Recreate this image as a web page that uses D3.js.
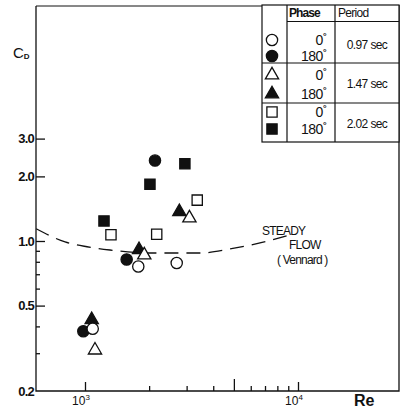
<!DOCTYPE html>
<html>
<head>
<meta charset="utf-8">
<script src="https://cdn.jsdelivr.net/npm/d3@7"></script>
<style>
  body { margin: 0; background: #fff; }
  svg { display: block; }
  text { font-family: "Liberation Sans", Arial, sans-serif; fill: #111; }
</style>
</head>
<body>
<svg width="410" height="409"></svg>
<script>
// Re, Cd pairs
const openCircle = [[1779, 0.76], [2695, 0.79], [1087, 0.39]];      // 0.97 sec, 0 deg
const fullCircle = [[2131, 2.37], [1569, 0.82], [982, 0.38]];       // 0.97 sec, 180 deg
const openTriangle = [[3092, 1.28], [1898, 0.86], [1114, 0.31]];    // 1.47 sec, 0 deg
const fullTriangle = [[2773, 1.37], [1793, 0.91], [1075, 0.43]];    // 1.47 sec, 180 deg
const openSquare = [[3364, 1.55], [1324, 1.07], [2171, 1.075]];     // 2.02 sec, 0 deg
const fullSquare = [[2944, 2.29], [2018, 1.84], [1228, 1.24]];      // 2.02 sec, 180 deg

// steady flow curve (Vennard)
const steadyRe = [590, 806, 1022, 1310, 2018, 3466, 4794, 6631, 9171];
const steadyCd = [1.14, 0.99, 0.94, 0.908, 0.879, 0.879, 0.918, 0.979, 1.066];

const yMajor = [0.5, 1, 2, 3];
const yMajorLabels = ["0.5", "1.0", "2.0", "3.0"];
const yMinor = [0.3, 0.4, 0.6, 0.7, 0.8, 0.9];
const xMinor = [2000, 3000, 4000, 6000, 7000, 8000, 9000];
const xMajor = [1000, 10000];

const periods = ["0.97 sec", "1.47 sec", "2.02 sec"];
const phases = ["0", "180"];

const plotLeft = 36, plotRight = 399, plotTop = 6, plotBottom = 391;

const x = d3.scaleLog().domain([1000, 10000]).range([85, 298]);
const y = d3.scaleLog().domain([0.2, 3]).range([391, 138.6]);

const svg = d3.select("svg");

// frame
const frame = svg.append("g").attr("stroke", "#111").attr("fill", "none");
frame.append("path").attr("stroke-width", 1.3)
    .attr("d", `M${plotLeft},${plotTop}V${plotBottom}H${plotRight}V5`);
frame.append("line").attr("stroke-width", 1)
    .attr("x1", plotLeft).attr("x2", 262).attr("y1", plotTop).attr("y2", plotTop);

// y axis
const yAxisG = svg.append("g").attr("transform", `translate(${plotLeft},0)`);
yAxisG.call(d3.axisLeft(y).tickValues(yMajor).tickSize(-9).tickPadding(2)
    .tickFormat((d, i) => yMajorLabels[i]));
svg.append("g").attr("transform", `translate(${plotLeft},0)`)
    .call(d3.axisLeft(y).tickValues(yMinor).tickSize(-4).tickFormat(""));
svg.append("text").attr("x", plotLeft - 2).attr("y", plotBottom + 5)
    .attr("text-anchor", "end").attr("font-size", 13).attr("font-weight", "bold")
    .attr("letter-spacing", -0.8).text("0.2");

// x axis
svg.append("g").attr("transform", `translate(0,${plotBottom})`)
    .call(d3.axisBottom(x).tickValues(xMinor).tickSize(-5).tickFormat(""));
svg.append("g").attr("transform", `translate(0,${plotBottom})`)
    .call(d3.axisBottom(x).tickValues([5000]).tickSize(-12).tickFormat(""));
svg.append("g").attr("transform", `translate(0,${plotBottom})`)
    .call(d3.axisBottom(x).tickValues(xMajor).tickSize(-9).tickFormat(""));

svg.selectAll(".domain").remove();
svg.selectAll(".tick line").attr("stroke", "#111").attr("stroke-width", 1.3);
yAxisG.selectAll(".tick text").attr("font-size", 13).attr("font-weight", "bold")
    .attr("letter-spacing", -0.8)
    .attr("fill", "#111").attr("font-family", "Liberation Sans, Arial, sans-serif");

const xl = svg.append("g");
xMajor.forEach(function (v, i) {
    const t = xl.append("text").attr("x", x(v) - 4).attr("y", 405)
        .attr("text-anchor", "middle").attr("font-size", 12);
    t.append("tspan").text("10");
    t.append("tspan").attr("font-size", 8).attr("dy", -5).text(i === 0 ? "3" : "4");
});
svg.append("text").attr("x", 354).attr("y", 406).attr("font-size", 16)
    .attr("font-weight", "bold").text("Re");

const cd = svg.append("text").attr("x", 13).attr("y", 58).attr("font-size", 15);
cd.append("tspan").text("C");
cd.append("tspan").attr("font-size", 8).attr("font-weight", "bold").attr("dy", 1).text("D");

// steady curve
const line = d3.line().curve(d3.curveMonotoneX)
    .x(d => x(d[0])).y(d => y(d[1]));
svg.append("path")
    .datum(steadyRe.map((r, i) => [r, steadyCd[i]]))
    .attr("d", line).attr("fill", "none").attr("stroke", "#111")
    .attr("stroke-width", 1.3).attr("stroke-dasharray", "14,8");

svg.append("text").attr("x", 262).attr("y", 235).attr("font-size", 12)
    .attr("letter-spacing", -0.8).text("STEADY");
svg.append("text").attr("x", 289).attr("y", 249).attr("font-size", 12)
    .attr("letter-spacing", -0.8).text("FLOW");
svg.append("text").attr("x", 277).attr("y", 264).attr("font-size", 12)
    .attr("letter-spacing", -0.8).text("( Vennard )");

// markers
const sym = {
    circle: d3.symbol().type(d3.symbolCircle).size(100),
    triangle: d3.symbol().type(d3.symbolTriangle).size(76),
    square: d3.symbol().type(d3.symbolSquare).size(105)
};

function drawSeries(data, shape, filled) {
    svg.append("g").selectAll("path").data(data).enter().append("path")
        .attr("transform", d => `translate(${x(d[0])},${y(d[1])})`)
        .attr("d", sym[shape]())
        .attr("fill", filled ? "#111" : "#fff")
        .attr("stroke", "#111").attr("stroke-width", 1.3);
}

drawSeries(fullCircle, "circle", true);
drawSeries(fullTriangle, "triangle", true);
drawSeries(fullSquare, "square", true);
drawSeries(openCircle, "circle", false);
drawSeries(openTriangle, "triangle", false);
drawSeries(openSquare, "square", false);

// legend table
const lg = svg.append("g");
const tx0 = 262, tx1 = 287, tx2 = 335, tx3 = 399;
const rowY = [5, 24, 63, 103, 142];
lg.append("rect").attr("x", tx0).attr("y", rowY[0]).attr("width", tx3 - tx0)
    .attr("height", rowY[4] - rowY[0]).attr("fill", "#fff").attr("stroke", "#111")
    .attr("stroke-width", 1.2);
[tx1, tx2].forEach(function (v) {
    lg.append("line").attr("x1", v).attr("x2", v).attr("y1", rowY[0]).attr("y2", rowY[4])
        .attr("stroke", "#111").attr("stroke-width", 1.2);
});
lg.append("line").attr("x1", tx1).attr("x2", tx3).attr("y1", 21.5).attr("y2", 21.5)
    .attr("stroke", "#111").attr("stroke-width", 1.2);
[rowY[2], rowY[3]].forEach(function (v) {
    lg.append("line").attr("x1", tx0).attr("x2", tx3).attr("y1", v).attr("y2", v)
        .attr("stroke", "#111").attr("stroke-width", 1.2);
});
lg.append("text").attr("x", 289).attr("y", 17).attr("font-size", 12)
    .attr("font-weight", "bold").attr("letter-spacing", -0.9).text("Phase");
lg.append("text").attr("x", 338).attr("y", 17).attr("font-size", 12)
    .attr("letter-spacing", -0.7).text("Period");

const legendShapes = ["circle", "triangle", "square"];
const symY = [[40, 56], [75, 94], [112, 129]];
legendShapes.forEach(function (s, i) {
    [false, true].forEach(function (filled, j) {
        lg.append("path").attr("transform", `translate(272,${symY[i][j]})`)
            .attr("d", sym[s]())
            .attr("fill", filled ? "#111" : "#fff")
            .attr("stroke", "#111").attr("stroke-width", 1.3);
        const t = lg.append("text").attr("x", 326).attr("y", symY[i][j] + 5)
            .attr("text-anchor", "end").attr("font-size", 14).attr("letter-spacing", -0.5);
        t.append("tspan").text(phases[j]);
        t.append("tspan").attr("font-size", 9).attr("font-weight", "bold")
            .attr("dy", -6).text("°");
    });
    lg.append("text").attr("x", 367).attr("y", (rowY[i + 1] + rowY[i + 2]) / 2 + 5)
        .attr("text-anchor", "middle").attr("font-size", 12)
        .attr("letter-spacing", -0.6).text(periods[i]);
});
</script>
</body>
</html>
